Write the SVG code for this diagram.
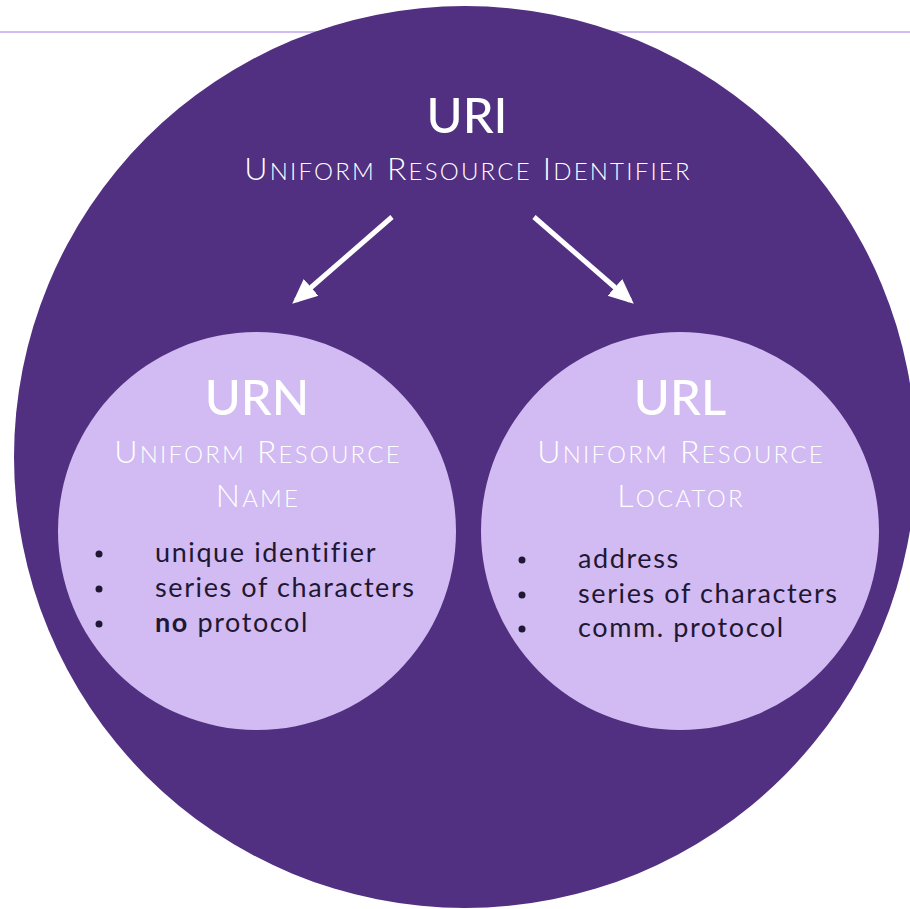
<svg xmlns="http://www.w3.org/2000/svg" width="910" height="909" viewBox="0 0 910 909">
<style>
text{font-family:Lato,"Open Sans","Liberation Sans",sans-serif}
.title{fill:#fff;font-size:49px;font-weight:500;text-anchor:middle}
.sub{fill:#fff;font-size:32px;font-weight:300;text-anchor:middle;letter-spacing:2.2px}
.sc{font-size:24px}
.item{fill:#1f1733;font-size:27px;font-weight:400;letter-spacing:1.6px}
.bul{fill:#1f1733}
.arrow{stroke:#fff;stroke-width:5;fill:none}
</style>
<defs>
<marker id="ah" viewBox="0 0 10 10" refX="8" refY="5" markerWidth="5" markerHeight="5" orient="auto" markerUnits="strokeWidth">
<path d="M0,0.5 L10,5 L0,9.5 Z" fill="#fff"/>
</marker>
</defs>
<rect width="910" height="909" fill="#fff"/>
<line x1="0" y1="32" x2="910" y2="32" stroke="#d2bbf2" stroke-width="2"/>
<g id="uri">
<circle cx="465" cy="457" r="451" fill="#512f81"/>
<text class="title" x="467" y="133">URI</text>
<text class="sub" x="468" y="180">U<tspan class="sc">NIFORM</tspan> R<tspan class="sc">ESOURCE</tspan> I<tspan class="sc">DENTIFIER</tspan></text>
</g>
<g id="connectors">
<line class="arrow" x1="392" y1="217" x2="296" y2="300.5" marker-end="url(#ah)"/>
<line class="arrow" x1="534" y1="217" x2="630" y2="300.5" marker-end="url(#ah)"/>
</g>
<g id="urn">
<circle cx="257" cy="531" r="199" fill="#d2bbf2"/>
<text class="title" x="257" y="415">URN</text>
<text class="sub" x="258" y="463">U<tspan class="sc">NIFORM</tspan> R<tspan class="sc">ESOURCE</tspan></text>
<text class="sub" x="258" y="507">N<tspan class="sc">AME</tspan></text>
<circle class="bul" cx="99" cy="554" r="3.5"/>
<circle class="bul" cx="99" cy="589" r="3.5"/>
<circle class="bul" cx="99" cy="624" r="3.5"/>
<text class="item" x="155" y="562">unique identifier</text>
<text class="item" x="155" y="597">series of characters</text>
<text class="item" x="155" y="632"><tspan font-weight="700">no</tspan> protocol</text>
</g>
<g id="url">
<circle cx="680" cy="531" r="199" fill="#d2bbf2"/>
<text class="title" x="680" y="415">URL</text>
<text class="sub" x="681" y="463">U<tspan class="sc">NIFORM</tspan> R<tspan class="sc">ESOURCE</tspan></text>
<text class="sub" x="681" y="507">L<tspan class="sc">OCATOR</tspan></text>
<circle class="bul" cx="522" cy="560" r="3.5"/>
<circle class="bul" cx="522" cy="595" r="3.5"/>
<circle class="bul" cx="522" cy="629" r="3.5"/>
<text class="item" x="578" y="568">address</text>
<text class="item" x="578" y="603">series of characters</text>
<text class="item" x="578" y="637">comm. protocol</text>
</g>
</svg>
